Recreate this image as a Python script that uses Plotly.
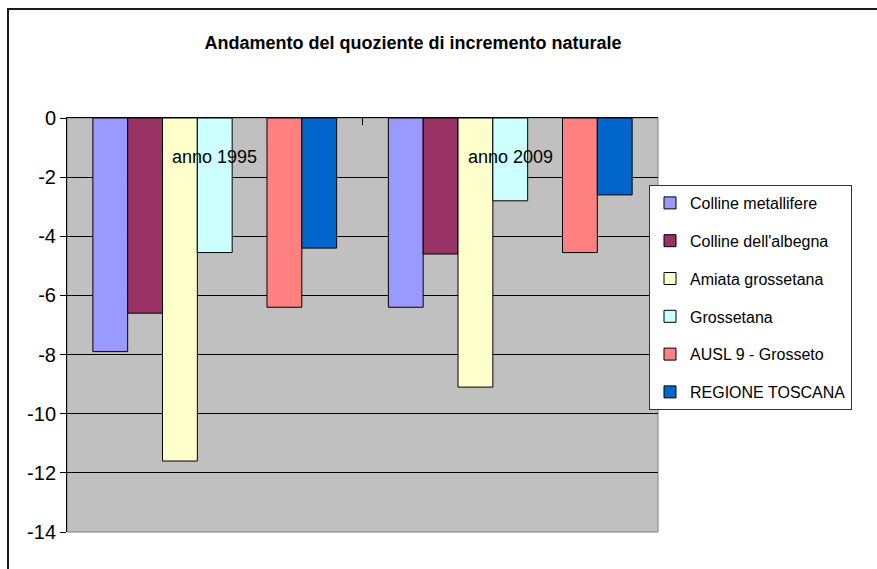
import plotly.graph_objects as go

# Natural increase rate (per 1000) by area, two reference years
categories = ["anno 1995", "anno 2009"]
series_names = [
    "Colline metallifere",
    "Colline dell'albegna",
    "Amiata grossetana",
    "Grossetana",
    "",  # unused slot kept in the group layout
    "AUSL 9 - Grosseto",
    "REGIONE TOSCANA",
]
series_values = [
    [-7.9, -6.4],
    [-6.6, -4.6],
    [-11.6, -9.1],
    [-4.55, -2.8],
    [None, None],
    [-6.4, -4.55],
    [-4.4, -2.6],
]
series_colors = ["#9999FF", "#993366", "#FFFFCC", "#CCFFFF", "#FFFFFF", "#FF8080", "#0066CC"]
y_ticks = [0, -2, -4, -6, -8, -10, -12, -14]

FONT = "Liberation Sans, Arial, sans-serif"

fig = go.Figure()
for i, (name, vals, col) in enumerate(zip(series_names, series_values, series_colors)):
    fig.add_trace(go.Bar(
        x=categories, y=vals, name=name,
        marker=dict(color=col, line=dict(color="#000000", width=1)),
        showlegend=bool(name), legendgroup=f"g{i}",
    ))

# Category labels sit just under the zero axis, inside the plot area
annotations = [
    dict(x=c, y=0, xref="x", yref="y", text=c, showarrow=False,
         yanchor="middle", yshift=-39, font=dict(family=FONT, size=18, color="#000"))
    for c in categories
]

L, R, T, B = 67, 219, 118, 37
W, H = 877, 569
pw, ph = W - L - R, H - T - B

def px_x(p):
    return (p - L) / pw

def px_y(p):
    return (H - B - p) / ph

shapes = [
    # plot-area frame
    dict(type="rect", xref="paper", yref="paper", x0=0, x1=1, y0=0, y1=1,
         line=dict(color="#808080", width=1), layer="below"),
    # chart-area border (runs off the right and bottom edges)
    dict(type="rect", xref="paper", yref="paper",
         x0=px_x(8), x1=px_x(890), y0=px_y(585), y1=px_y(9),
         line=dict(color="#1a1a1a", width=2)),
]

fig.update_layout(
    width=W, height=H,
    margin=dict(l=L, r=R, t=T, b=B),
    paper_bgcolor="#FFFFFF",
    plot_bgcolor="#C0C0C0",
    barmode="group", bargap=0.175, bargroupgap=0,
    font=dict(family=FONT, color="#000"),
    title=dict(text="<b>Andamento del quoziente di incremento naturale</b>",
               x=413 / W, xanchor="center", y=1 - 43 / H, yanchor="middle",
               font=dict(family=FONT, size=18, color="#000")),
    xaxis=dict(side="top", showticklabels=False, showline=True, linecolor="#000",
               linewidth=1, ticks="inside", ticklen=7, tickcolor="#000",
               tickson="boundaries", showgrid=False, zeroline=False, fixedrange=True),
    yaxis=dict(range=[-14, 0], tickvals=y_ticks, ticktext=[str(v) for v in y_ticks],
               showline=True, linecolor="#000", linewidth=1, ticks="outside",
               ticklen=6, tickcolor="#000", showgrid=True, gridcolor="#000",
               gridwidth=1, zeroline=False, tickfont=dict(family=FONT, size=20),
               fixedrange=True),
    legend=dict(x=px_x(649), y=px_y(185), xanchor="left", yanchor="top",
                bgcolor="#FFFFFF", bordercolor="#333", borderwidth=1,
                font=dict(family=FONT, size=16, color="#000"),
                tracegroupgap=14, itemwidth=30),
    annotations=annotations,
    shapes=shapes,
)

fig.write_html("out.html")
